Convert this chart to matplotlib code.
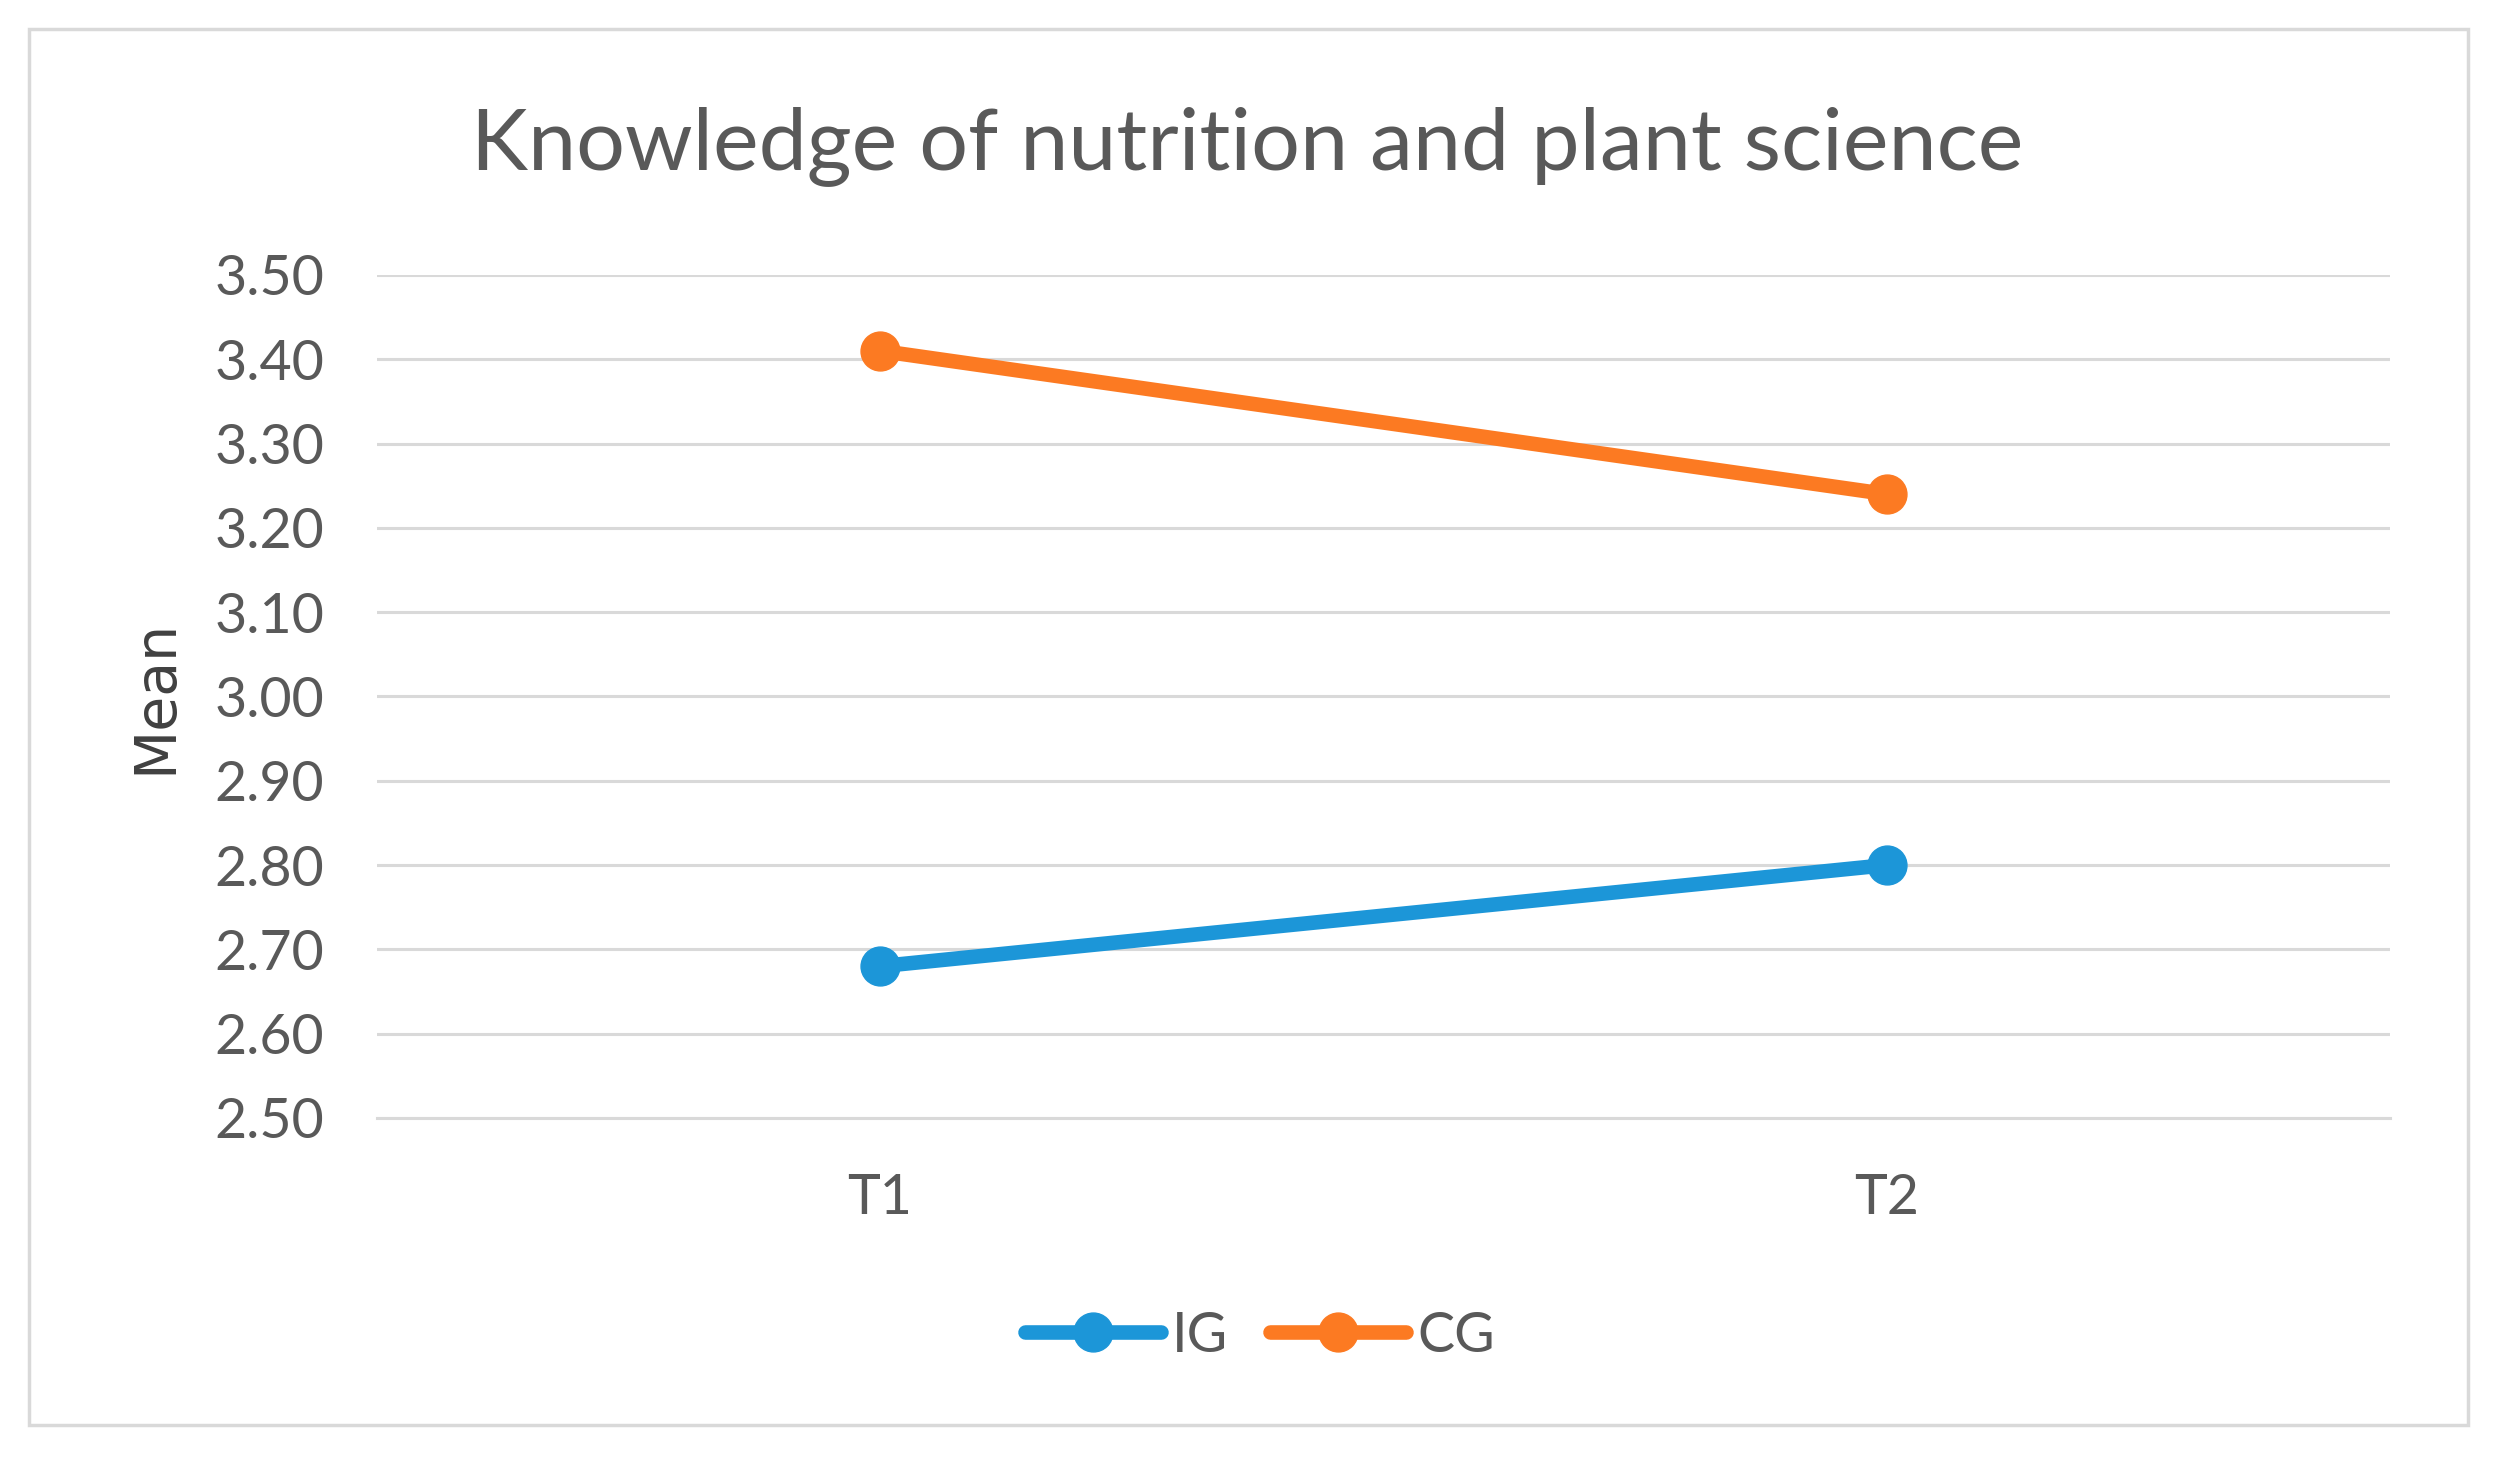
import matplotlib
matplotlib.use('Agg')
import matplotlib.pyplot as plt
from matplotlib.patches import Rectangle

# data
categories = ['T1', 'T2']
ig_means = [2.68, 2.80]
cg_means = [3.41, 3.24]
series_names = ['IG', 'CG']
y_ticks = [2.50, 2.60, 2.70, 2.80, 2.90, 3.00, 3.10, 3.20, 3.30, 3.40, 3.50]

TEXT_COLOR = '#595959'
GRID_COLOR = '#d9d9d9'
BLUE = '#1c96d8'
ORANGE = '#fc7a22'

plt.rcParams['font.family'] = ['Lato', 'DejaVu Sans']

fig = plt.figure(figsize=(24.95, 14.65), dpi=100)
fig.patch.set_facecolor('white')

# chart frame like the spreadsheet chart area
frame = Rectangle((29 / 2495, 1 - 1425 / 1465), (2468 - 29) / 2495, (1425 - 29) / 1465,
                  transform=fig.transFigure, fill=False, edgecolor='#d9d9d9', linewidth=2.5)
fig.patches.append(frame)

ax = fig.add_axes([0.151, 0.2369, 0.807, 0.5754])

xs = [i + 0.5 for i in range(len(categories))]
ax.plot(xs, ig_means, color=BLUE, linewidth=10.5, marker='o', markersize=28,
        solid_capstyle='round', label=series_names[0], zorder=3)
ax.plot(xs, cg_means, color=ORANGE, linewidth=10.5, marker='o', markersize=28,
        solid_capstyle='round', label=series_names[1], zorder=3)

ax.set_xlim(0, len(categories))
ax.set_ylim(y_ticks[0], y_ticks[-1])
ax.set_yticks(y_ticks)
ax.set_yticklabels([f'{v:.2f}' for v in y_ticks])
ax.set_xticks(xs)
ax.set_xticklabels(categories)

ax.grid(axis='y', color=GRID_COLOR, linewidth=2.2)
ax.set_axisbelow(True)
for side in ['top', 'right', 'left']:
    ax.spines[side].set_visible(False)
ax.spines['bottom'].set_color(GRID_COLOR)
ax.spines['bottom'].set_linewidth(2.2)
ax.tick_params(axis='both', length=0, labelsize=40, colors=TEXT_COLOR)
ax.tick_params(axis='y', pad=38)
ax.tick_params(axis='x', pad=40)
for line in ax.lines:
    line.set_clip_on(False)

fig.text(0.5, 0.900, 'Knowledge of nutrition and plant science', ha='center', va='center',
         fontsize=62, color=TEXT_COLOR)
fig.text(156 / 2495, 1 - 696 / 1465, 'Mean', rotation=90, ha='center', va='center',
         fontsize=41, color='#404040', family='DejaVu Sans')

leg = fig.legend(loc='center', bbox_to_anchor=(0.505, 1 - 1336 / 1465), ncol=2, frameon=False,
                 fontsize=40, handlelength=2.45, handletextpad=0.2, columnspacing=0.75,
                 labelcolor=TEXT_COLOR)

fig.savefig('out.png', dpi=100)
